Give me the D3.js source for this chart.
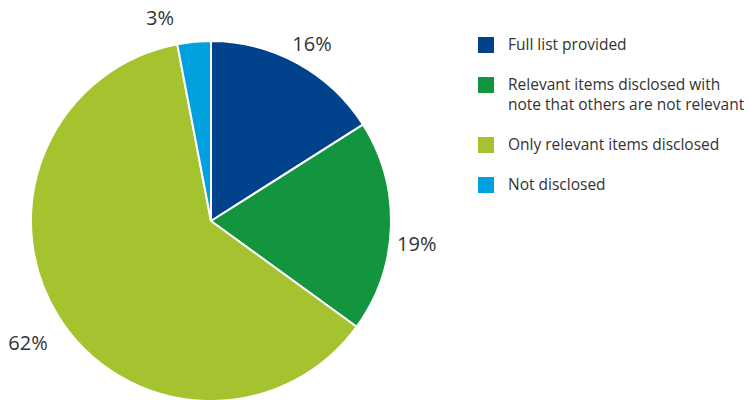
<!DOCTYPE html>
<html>
<head>
<meta charset="utf-8">
<script src="https://cdn.jsdelivr.net/npm/d3@7"></script>
<style>
  html, body { margin: 0; padding: 0; background: #fff; }
  svg { display: block; font-family: "Open Sans", "Noto Sans", sans-serif; }
</style>
</head>
<body>
<svg id="chart" width="750" height="400"></svg>
<script>
// Disclosure categories and their shares (%)
const categories = [
  "Full list provided",
  "Relevant items disclosed with\nnote that others are not relevant",
  "Only relevant items disclosed",
  "Not disclosed"
];
const values = [16, 19, 62, 3];
const colors = ["#00438c", "#13943f", "#a5c32f", "#00a1de"];

// Label placement: distance from centre and angular nudge (degrees) per slice
const labelRadius = [204, 207, 220, 209];
const labelNudge = [0.9, 4.6, -1.3, -8.7];

const svg = d3.select("#chart");
const cx = 211, cy = 221, radius = 180;

const pie = d3.pie().sort(null).value(d => d.value);
const data = pie(categories.map((c, i) => ({ name: c, value: values[i], color: colors[i] })));

const arc = d3.arc().innerRadius(0).outerRadius(radius);

const g = svg.append("g").attr("transform", `translate(${cx},${cy})`);

g.selectAll("path")
  .data(data)
  .join("path")
  .attr("d", arc)
  .attr("fill", d => d.data.color)
  .attr("stroke", "#fff")
  .attr("stroke-width", 2)
  .attr("stroke-linejoin", "round");

g.selectAll("text.pct")
  .data(data)
  .join("text")
  .attr("class", "pct")
  .attr("transform", (d, i) => {
    const a = (d.startAngle + d.endAngle) / 2 + labelNudge[i] * Math.PI / 180;
    const r = labelRadius[i];
    return `translate(${r * Math.sin(a)},${-r * Math.cos(a)})`;
  })
  .attr("text-anchor", "middle")
  .attr("dy", "0.35em")
  .attr("font-size", 20)
  .attr("fill", "#333")
  .text(d => d.data.value + "%");

// Legend
const legend = svg.append("g").attr("transform", "translate(478,37)");
const rowY = [0, 40, 100, 140];
const item = legend.selectAll("g")
  .data(data)
  .join("g")
  .attr("transform", (d, i) => `translate(0,${rowY[i]})`);

item.append("rect")
  .attr("width", 16)
  .attr("height", 16)
  .attr("fill", d => d.data.color);

item.append("text")
  .attr("x", 30)
  .attr("y", 8)
  .attr("font-size", 15.5)
  .attr("fill", "#333")
  .selectAll("tspan")
  .data(d => d.data.name.split("\n"))
  .join("tspan")
  .attr("x", 30)
  .attr("dy", (t, i) => i === 0 ? "0.35em" : "20")
  .text(t => t);
</script>
</body>
</html>
